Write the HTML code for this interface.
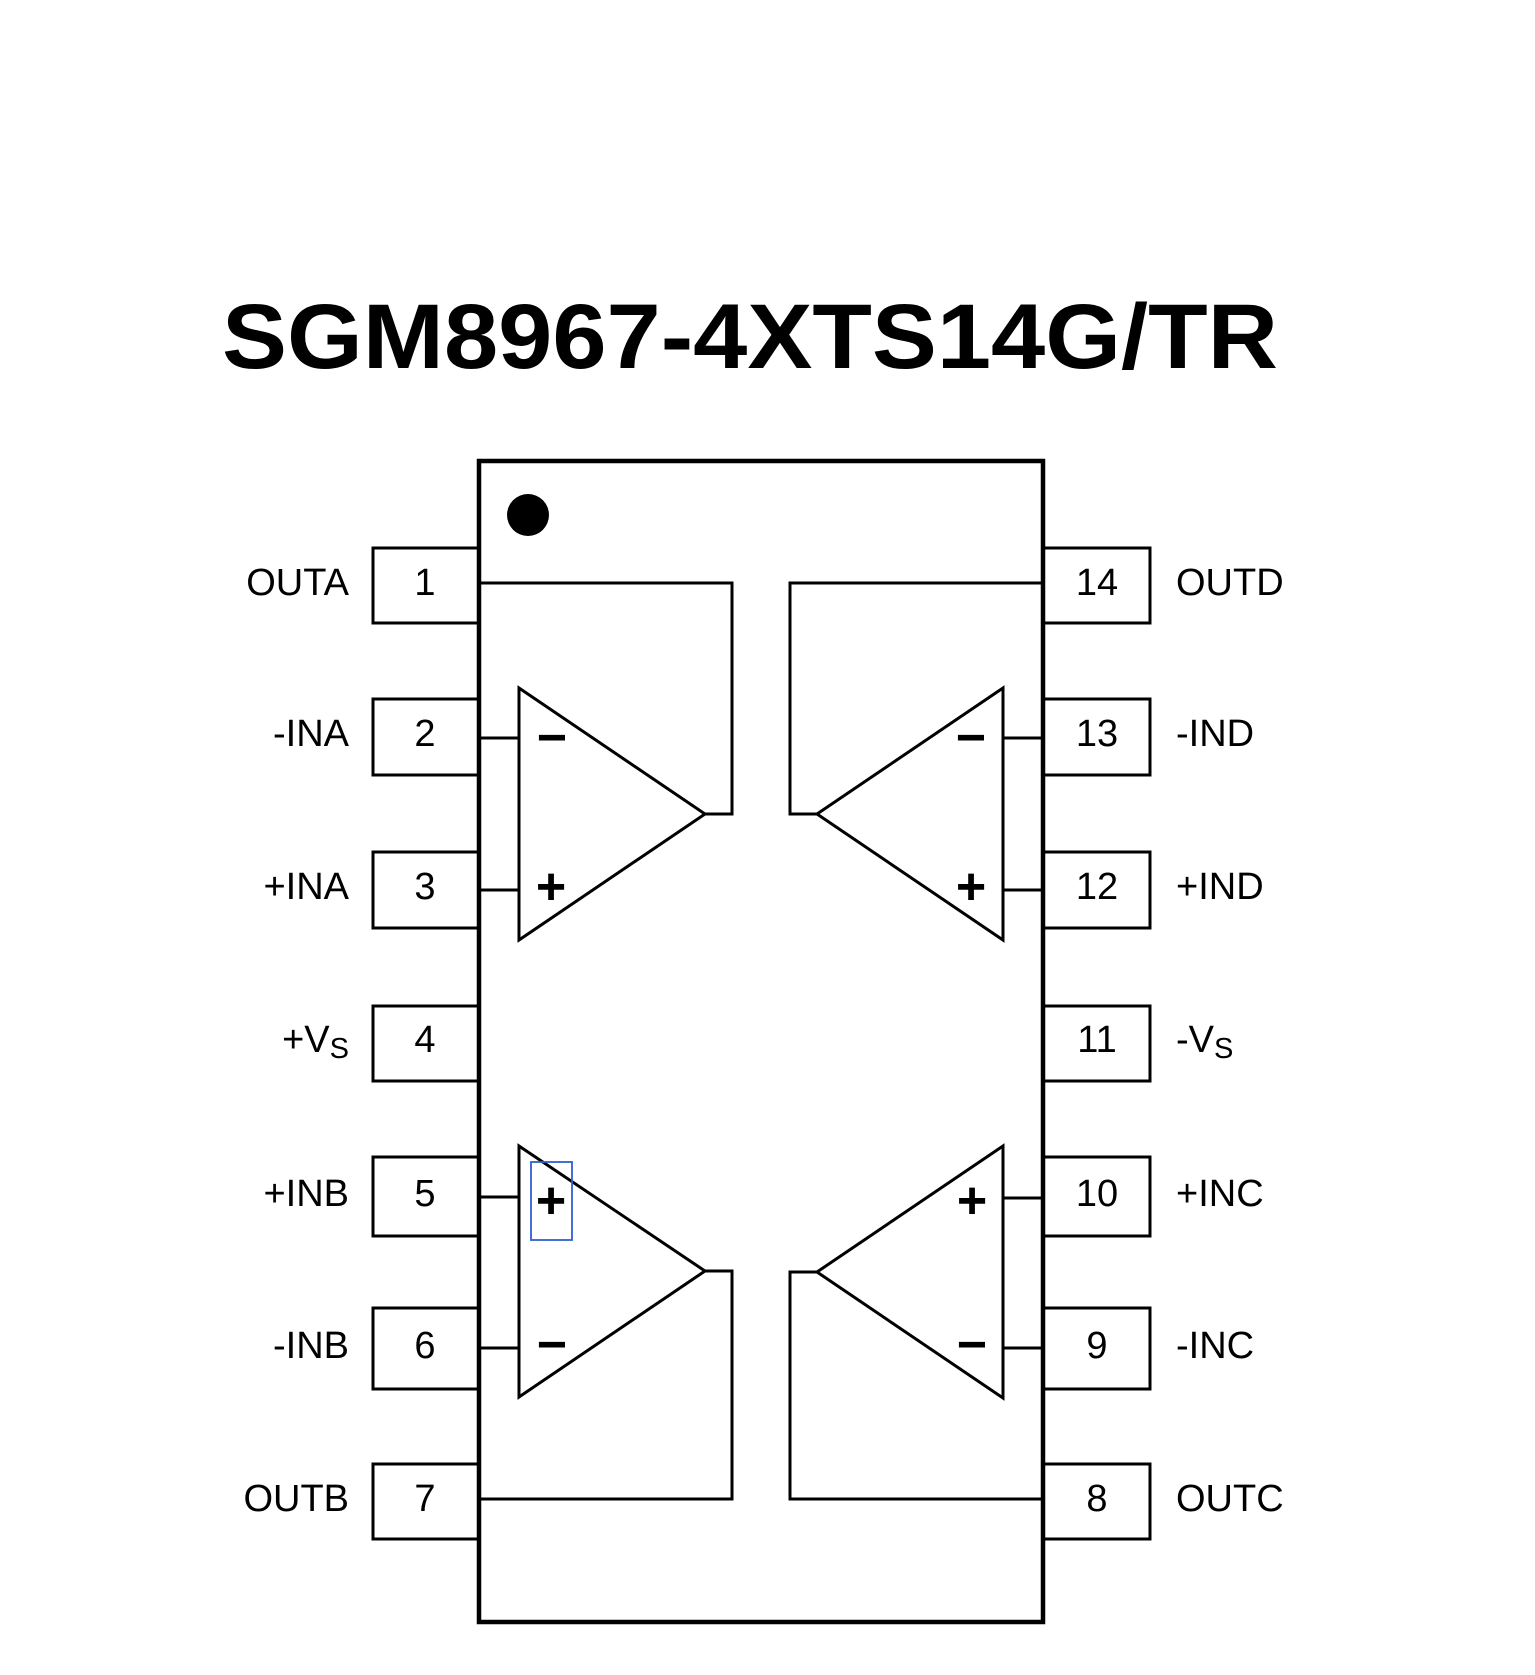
<!DOCTYPE html>
<html>
<head>
<meta charset="utf-8">
<style>
  html, body { margin: 0; padding: 0; background: #fff; }
  svg { display: block; }
  .lbl { font-family: "Liberation Sans", Arial, sans-serif; font-size: 38px; fill: #000; }
  .sign { font-family: "Liberation Sans", Arial, sans-serif; font-weight: bold; font-size: 52px; fill: #000; }
</style>
</head>
<body>
<svg width="1535" height="1675" viewBox="0 0 1535 1675" xmlns="http://www.w3.org/2000/svg">
  <rect x="0" y="0" width="1535" height="1675" fill="#fff"/>

  <!-- Title -->
  <text x="222" y="368" textLength="1056" lengthAdjust="spacingAndGlyphs"
        style="font-family:'Liberation Sans','Noto Sans CJK SC',sans-serif;font-weight:bold;font-size:92px;fill:#000;">SGM8967-4XTS14G/TR</text>

  <!-- Pin boxes left -->
  <g fill="none" stroke="#000" stroke-width="3">
    <polyline points="479,548 373,548 373,623 479,623"/>
    <polyline points="479,699 373,699 373,775 479,775"/>
    <polyline points="479,852 373,852 373,928 479,928"/>
    <polyline points="479,1006 373,1006 373,1081 479,1081"/>
    <polyline points="479,1157 373,1157 373,1236 479,1236"/>
    <polyline points="479,1308 373,1308 373,1389 479,1389"/>
    <polyline points="479,1464 373,1464 373,1539 479,1539"/>
    <!-- right -->
    <polyline points="1043,548 1150,548 1150,623 1043,623"/>
    <polyline points="1043,699 1150,699 1150,775 1043,775"/>
    <polyline points="1043,852 1150,852 1150,928 1043,928"/>
    <polyline points="1043,1006 1150,1006 1150,1081 1043,1081"/>
    <polyline points="1043,1157 1150,1157 1150,1236 1043,1236"/>
    <polyline points="1043,1308 1150,1308 1150,1389 1043,1389"/>
    <polyline points="1043,1464 1150,1464 1150,1539 1043,1539"/>
  </g>

  <!-- Chip body -->
  <rect x="479" y="461" width="564" height="1161" fill="none" stroke="#000" stroke-width="4.5"/>
  <circle cx="528" cy="515" r="21" fill="#000"/>

  <!-- Internal wiring -->
  <g fill="none" stroke="#000" stroke-width="3">
    <polyline points="481,583 732,583 732,814 705,814"/>
    <line x1="481" y1="738" x2="519" y2="738"/>
    <line x1="481" y1="890" x2="519" y2="890"/>
    <polyline points="1041,583 790,583 790,814 817,814"/>
    <line x1="1041" y1="738" x2="1003" y2="738"/>
    <line x1="1041" y1="890" x2="1003" y2="890"/>
    <polyline points="705,1271 732,1271 732,1499 481,1499"/>
    <line x1="481" y1="1197" x2="519" y2="1197"/>
    <line x1="481" y1="1348" x2="519" y2="1348"/>
    <polyline points="817,1272 790,1272 790,1499 1041,1499"/>
    <line x1="1041" y1="1198" x2="1003" y2="1198"/>
    <line x1="1041" y1="1348" x2="1003" y2="1348"/>
  </g>

  <!-- Triangles -->
  <g fill="none" stroke="#000" stroke-width="3" stroke-linejoin="miter">
    <polygon points="519,688 705,814 519,940"/>
    <polygon points="1003,688 817,814 1003,940"/>
    <polygon points="519,1146 705,1271 519,1397"/>
    <polygon points="1003,1146 817,1272 1003,1398"/>
  </g>

  <!-- Signs -->
  <g class="sign" text-anchor="middle">
    <text x="552" y="755">−</text>
    <text x="551" y="904">+</text>
    <text x="551" y="1218">+</text>
    <text x="552" y="1362">−</text>
    <text x="971" y="755">−</text>
    <text x="971" y="904">+</text>
    <text x="972" y="1218">+</text>
    <text x="972" y="1362">−</text>
  </g>

  <!-- Blue highlight box -->
  <rect x="531" y="1162" width="41" height="78" fill="none" stroke="#2f5fd0" stroke-width="1.8"/>

  <!-- Pin numbers -->
  <g class="lbl" text-anchor="middle">
    <text x="425" y="595">1</text>
    <text x="425" y="746">2</text>
    <text x="425" y="899">3</text>
    <text x="425" y="1052">4</text>
    <text x="425" y="1206">5</text>
    <text x="425" y="1358">6</text>
    <text x="425" y="1511">7</text>
    <text x="1097" y="595">14</text>
    <text x="1097" y="746">13</text>
    <text x="1097" y="899">12</text>
    <text x="1097" y="1052">11</text>
    <text x="1097" y="1206">10</text>
    <text x="1097" y="1358">9</text>
    <text x="1097" y="1511">8</text>
  </g>

  <!-- Pin names left -->
  <g class="lbl" text-anchor="end">
    <text x="349" y="595">OUTA</text>
    <text x="349" y="746">-INA</text>
    <text x="349" y="899">+INA</text>
    <text x="349" y="1052">+V<tspan dy="6" style="font-size:29px">S</tspan></text>
    <text x="349" y="1206">+INB</text>
    <text x="349" y="1358">-INB</text>
    <text x="349" y="1511">OUTB</text>
  </g>

  <!-- Pin names right -->
  <g class="lbl" text-anchor="start">
    <text x="1176" y="595">OUTD</text>
    <text x="1176" y="746">-IND</text>
    <text x="1176" y="899">+IND</text>
    <text x="1176" y="1052">-V<tspan dy="6" style="font-size:29px">S</tspan></text>
    <text x="1176" y="1206">+INC</text>
    <text x="1176" y="1358">-INC</text>
    <text x="1176" y="1511">OUTC</text>
  </g>
</svg>
</body>
</html>
